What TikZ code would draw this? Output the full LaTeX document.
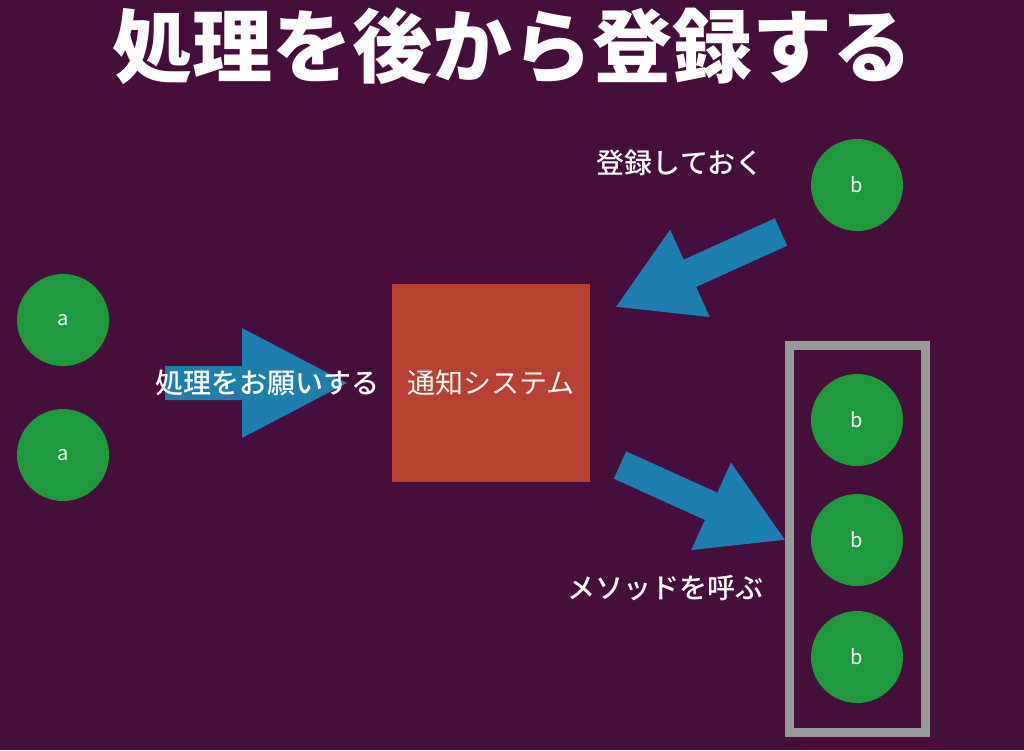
\documentclass[tikz,border=0pt]{standalone}
\usepackage{fontspec}
\setmainfont{Noto Sans CJK JP}
\newfontfamily\titlefont{Noto Sans CJK JP Black}
\newfontfamily\medfont{Noto Sans CJK JP Medium}
\definecolor{bg}{HTML}{470E3C}
\definecolor{gr}{HTML}{1E9A3A}
\definecolor{bl}{HTML}{1D7FAE}
\definecolor{rd}{HTML}{B8412F}
\begin{document}
\begin{tikzpicture}[x=1pt,y=-1pt,
  ball/.style={circle,fill=gr,minimum size=92pt,inner sep=0pt,text=white,font=\fontsize{20}{20}\selectfont},
  lbl/.style={text=white,font=\medfont\fontsize{28}{28}\selectfont},
  fat/.style={fill=bl}]
\fill[bg] (0,0) rectangle (1024,750);
\useasboundingbox (0,0) rectangle (1024,750);
\node[text=white,font=\titlefont\fontsize{80}{80}\selectfont] (title) at (512,46) {処理を後から登録する};
\node[ball] (a1) at (63,320) {a};
\node[ball] (a2) at (63,455) {a};
\node[ball] (b0) at (857,185) {b};
\node[ball] (b1) at (857,420) {b};
\node[ball] (b2) at (857,540) {b};
\node[ball] (b3) at (857,657) {b};
\draw[gray!80,line width=9pt] (789,345) rectangle (925,732);
\node[fill=rd,minimum size=198pt,inner sep=0pt,text=white,font=\fontsize{28}{28}\selectfont] (sys) at (491,383) {通知システム};
% arrow 1
\fill[fat] (165,366) -- (242,366) -- (242,328) -- (347,383) -- (242,438) -- (242,400) -- (165,400) -- cycle;
\node[lbl] (l1) at (267,383) {処理をお願いする};
% arrow 2
\begin{scope}[shift={(781,232)},rotate=204.4]
\fill[fat] (0,-15) -- (100,-15) -- (100,-48) -- (181,0) -- (100,48) -- (100,15) -- (0,15) -- cycle;
\end{scope}
\begin{scope}[shift={(620,465)},rotate=-24.4]
\fill[fat] (0,-15) -- (100,-15) -- (100,-48) -- (181,0) -- (100,48) -- (100,15) -- (0,15) -- cycle;
\end{scope}
\node[lbl] (l2) at (680,163) {登録しておく};
\node[lbl] (l3) at (665,588) {メソッドを呼ぶ};
\end{tikzpicture}
\end{document}
